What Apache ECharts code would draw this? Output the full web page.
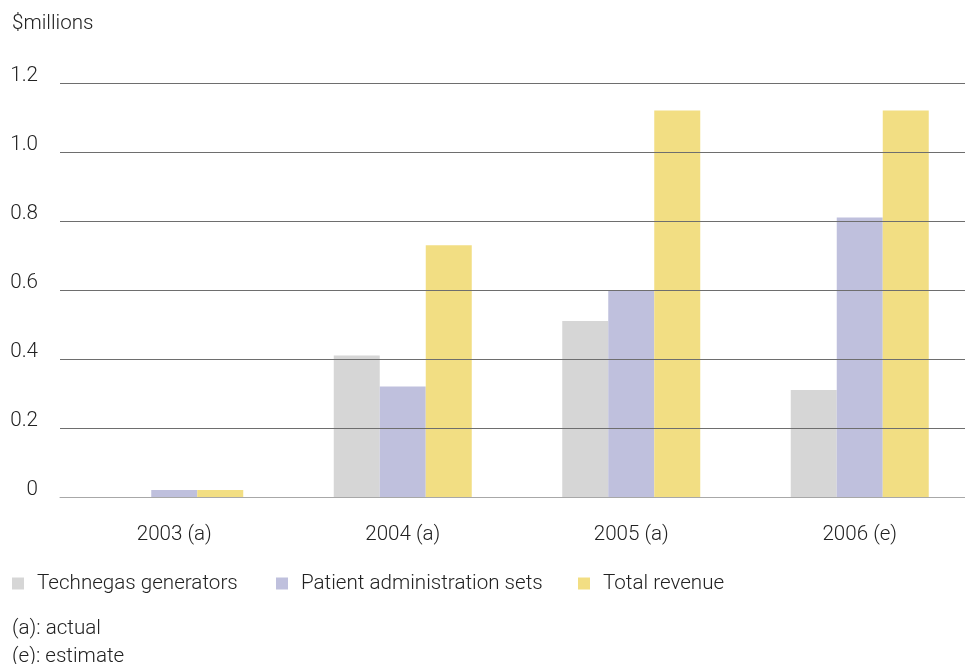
<!DOCTYPE html>
<html><head><meta charset="utf-8">
<script src="https://cdn.jsdelivr.net/npm/echarts@6/dist/echarts.min.js"></script>
<style>html,body{margin:0;padding:0;background:#fff;overflow:hidden}#c{width:974px;height:664px}</style>
</head><body><div id="c"></div>
<script>
const categories = ['2003 (a)', '2004 (a)', '2005 (a)', '2006 (e)'];
const technegas = [0, 0.41, 0.51, 0.31];
const patientSets = [0.02, 0.32, 0.60, 0.81];
const totalRevenue = [0.02, 0.73, 1.12, 1.12];
const seriesNames = ['Technegas generators', 'Patient administration sets', 'Total revenue'];
const unitLabel = '$millions';
const footnotes = ['(a): actual', '(e): estimate'];

const FONT = 'Roboto, "Liberation Sans", sans-serif';
const FS = 20.6;
const colors = ['#d6d6d6', '#bfc0dd', '#f2de83'];
const txt = { fontFamily: FONT, fontWeight: 300, fontSize: FS, color: '#222' };
const fontStr = '300 ' + FS + 'px ' + FONT;

const chart = echarts.init(document.getElementById('c'), null, { renderer: 'canvas' });
const legendLefts = [12, 276, 578];
chart.setOption({
  animation: false,
  grid: { left: 60, right: 0, top: 83, bottom: 167 },
  xAxis: {
    type: 'category', data: categories,
    axisLine: { show: true, lineStyle: { color: '#a8a8a8', width: 1 } },
    axisTick: { show: false },
    axisLabel: Object.assign({ margin: 27 }, txt),
    z: 10
  },
  yAxis: {
    type: 'value', min: 0, max: 1.2, interval: 0.2,
    axisLine: { show: false }, axisTick: { show: false },
    axisLabel: Object.assign({ margin: 22, verticalAlign: 'bottom', lineHeight: 15, formatter: v => v === 0 ? '0' : v.toFixed(1) }, txt),
    splitLine: { lineStyle: { color: '#6e6e6e', width: 1 } },
    z: 10
  },
  legend: seriesNames.map((n, i) => ({
    data: [n], left: legendLefts[i], top: 573, padding: 0, itemWidth: 12, itemHeight: 12,
    icon: 'rect', textStyle: Object.assign({ padding: [0, 0, 0, 8] }, txt)
  })),
  graphic: [
    { type: 'text', left: 12, top: 13, style: { text: unitLabel, font: fontStr, fill: '#222' } },
    { type: 'text', left: 12, top: 618, style: { text: footnotes[0], font: fontStr, fill: '#222' } },
    { type: 'text', left: 12, top: 646, style: { text: footnotes[1], font: fontStr, fill: '#222' } }
  ],
  series: [technegas, patientSets, totalRevenue].map((d, i) => ({
    name: seriesNames[i], type: 'bar', data: d,
    barWidth: 46, barGap: '0%',
    itemStyle: { color: colors[i] }, z: 2
  }))
});
</script></body></html>
